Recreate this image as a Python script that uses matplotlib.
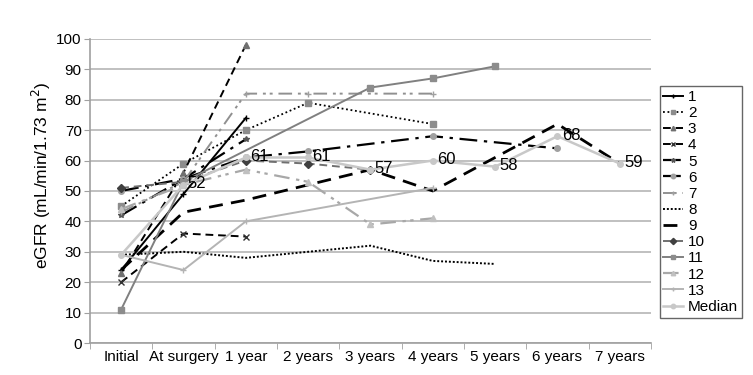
import numpy as np
import matplotlib.pyplot as plt
from matplotlib.ticker import FixedLocator

plt.rcParams['font.family'] = ['Liberation Sans', 'DejaVu Sans']

nan = np.nan
categories = ["Initial", "At surgery", "1 year", "2 years", "3 years",
              "4 years", "5 years", "6 years", "7 years"]

s1 = [24, 49, 74]
s2 = [45, 59, 70, 79, nan, 72]
s3 = [23, 56, 98]
s4 = [20, 36, 35]
s5 = [42, 54, 67]
s6 = [50, 54, 61, 63, nan, 68, nan, 64]
s7 = [43, 53, 82, 82, nan, 82]
s8 = [29, 30, 28, 30, 32, 27, 26]
s9 = [24, 43, 47, 52, 57, 50, 61, 72, 59]
s10 = [51, 53, 60, 59, 57]
s11 = [11, 53, nan, nan, 84, 87, 91]
s12 = [44, 52, 57, 53, 39, 41]
s13 = [29, 24, 40, nan, nan, 51]
median = [29, 52, 61, 61, 57, 60, 58, 68, 59]
median_labels = [None, "52", "61", "61", "57", "60", "58", "68", "59"]

# (values, label, color, linestyle, linewidth, marker, marker colour)
series = [
    (s1, "1", "black", "-", 1.4, "+", "black"),
    (s2, "2", "black", (0, (1, 1.5)), 1.3, "s", "#8c8c8c"),
    (s3, "3", "black", (0, (4, 2.5)), 1.4, "^", "#707070"),
    (s4, "4", "black", (0, (4, 2.5)), 1.4, "x", "#333333"),
    (s5, "5", "black", (0, (8, 3, 1.5, 3)), 1.6, "*", "#555555"),
    (s6, "6", "black", (0, (8, 3, 1.5, 3)), 1.6, "o", "#a0a0a0"),
    (s7, "7", "#909090", (0, (7, 3, 1.5, 2, 1.5, 3)), 1.4, "+", "#a0a0a0"),
    (s8, "8", "black", (0, (1, 1)), 1.4, None, "black"),
    (s9, "9", "black", (0, (5, 3)), 2.0, None, "black"),
    (s10, "10", "#707070", (0, (4, 2.5)), 1.4, "D", "#404040"),
    (s11, "11", "#808080", "-", 1.4, "s", "#8c8c8c"),
    (s12, "12", "#a8a8a8", (0, (7, 3, 1.5, 2, 1.5, 3)), 1.6, "^", "#c0c0c0"),
    (s13, "13", "#b4b4b4", "-", 1.4, "+", "#b4b4b4"),
    (median, "Median", "#c8c8c8", "-", 1.8, "o", "#c8c8c8"),
]

fig = plt.figure(figsize=(7.53, 3.75), dpi=100)
ax = fig.add_axes([0.1195, 0.0853, 0.745, 0.811])

for vals, lab, col, ls, lw, mk, mcol in series:
    y = np.array(vals, dtype=float)
    x = np.arange(len(y))
    ok = ~np.isnan(y)
    ax.plot(x[ok], y[ok], color=col, linestyle=ls, linewidth=lw, marker=mk,
            markersize=4, markerfacecolor=mcol, markeredgecolor=mcol,
            label=lab, zorder=3)

for i, t in enumerate(median_labels):
    if t:
        ax.text(i + 0.07, median[i] + 0.3, t, fontsize=12, va="center",
                ha="left", color="black", zorder=4)

ax.set_xlim(-0.5, len(categories) - 0.5)
ax.set_ylim(0, 100)
ax.set_yticks(np.arange(0, 101, 10))
ax.set_xticks(np.arange(len(categories)))
ax.set_xticklabels(categories, fontsize=11)
ax.tick_params(axis="x", which="major", length=0, pad=5)
ax.xaxis.set_minor_locator(FixedLocator(np.arange(-0.5, len(categories), 1)))
ax.tick_params(axis="x", which="minor", length=4, color="#a0a0a0")
ax.tick_params(axis="y", labelsize=11, length=4, color="#a0a0a0", pad=2)
ax.set_ylabel("eGFR (mL/min/1.73 m$^2$)", fontsize=12.5)
ax.yaxis.set_label_coords(-0.066, 0.55)

ax.grid(axis="y", color="#c0c0c0", linewidth=1.4)
ax.set_axisbelow(True)
for side in ["top", "right"]:
    ax.spines[side].set_visible(False)
for side in ["left", "bottom"]:
    ax.spines[side].set_color("#a0a0a0")
    ax.spines[side].set_linewidth(1.2)

leg = fig.legend(loc="upper left", bbox_to_anchor=(0.876, 0.77), fontsize=11,
                 handlelength=1.3, handletextpad=0.3, labelspacing=0.14,
                 borderpad=0.25, borderaxespad=0, frameon=True, fancybox=False,
                 markerscale=0.8)
leg.get_frame().set_edgecolor("#404040")
leg.get_frame().set_linewidth(1.0)

fig.savefig("out.png", dpi=100)
